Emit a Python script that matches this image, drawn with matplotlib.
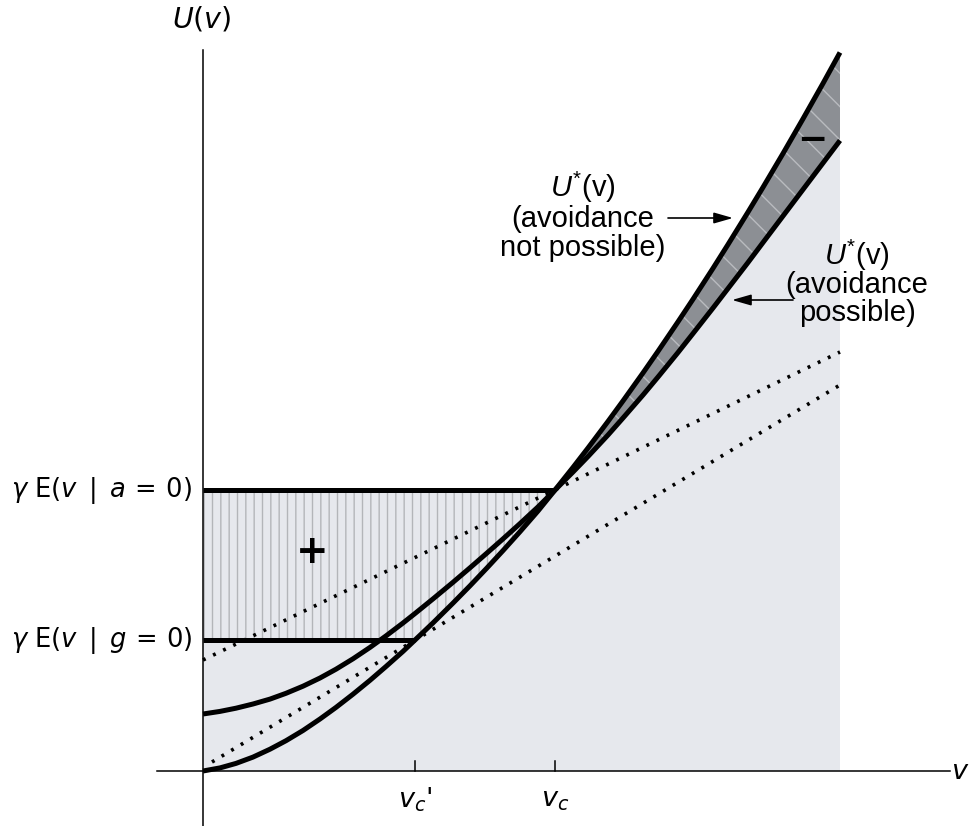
import numpy as np
import matplotlib
matplotlib.use('Agg')
import matplotlib.pyplot as plt

plt.rcParams['font.family'] = 'DejaVu Sans'
plt.rcParams['mathtext.fontset'] = 'dejavusans'
# used only by the annotation texts (math_fontfamily='custom')
plt.rcParams['mathtext.rm'] = 'Liberation Sans'
plt.rcParams['mathtext.it'] = 'Liberation Sans:italic'
plt.rcParams['hatch.linewidth'] = 1.0

# values (units: pixels from the origin)
v = [0, 17, 33, 50, 67, 83, 100, 117, 133, 150, 167, 183, 200, 212, 230, 250, 267, 284, 300,
     317, 335, 352, 370, 385, 405, 420, 440, 455, 475, 490, 510, 525, 545, 560, 580, 600, 620, 637]
u_not_possible = [0, 3.1, 7.6, 13.9, 21.8, 30.3, 40.5, 52, 63.6, 76.8, 90.7, 104.5, 119.6, 131,
                  148.1, 167.9, 185.2, 203.1, 220.4, 239.3, 260, 281, 303.6, 323, 349.6, 370.1,
                  398.1, 419.7, 449.2, 471.8, 502.7, 526.5, 558.9, 583.7, 617.5, 652.2, 687.6, 718.5]
u_possible = [57, 59.6, 62.8, 67, 71.9, 77.7, 84.8, 93, 101.8, 112.2, 123.6, 135.1, 148, 157.5,
              172.1, 188.7, 203.2, 218, 232.1, 247.4, 264.1, 281, 299, 314.5, 336, 353, 376,
              394, 418.5, 437.5, 463, 482.5, 508.5, 528.5, 555, 581.5, 608, 630.5]

vc = 352
vc_prime = 212
level_a = 281   # gamma E(v | a = 0)
level_g = 131   # gamma E(v | g = 0)

dot_hi_v = [0, 637]
dot_hi_u = [111, 419]
dot_lo_v = [9, 637]
dot_lo_u = [9, 386]

light = '#e6e8ed'
dark = '#8c8f94'

fig = plt.figure(figsize=(9.71, 8.26), dpi=100)
ax = fig.add_axes([0, 0, 1, 1])
ax.set_xlim(-203, 768)
ax.set_ylim(-55, 771)
ax.axis('off')

k = v.index(vc)

# light region under the curves
poly_x = [0, v[-1]] + v[k:][::-1] + [0]
poly_y = [0, 0] + u_possible[k:][::-1] + [level_a]
ax.fill(poly_x, poly_y, color=light, lw=0, zorder=1)

# hatched "+" region
va = np.array(v[:k + 1])
ua = np.array(u_not_possible[:k + 1])
ax.fill_between(va, np.maximum(ua, level_g), level_a, facecolor=light,
                edgecolor='#b3b5b9', hatch='||', lw=0, zorder=2)

# dark "-" band
ax.fill_between(v[k:], u_possible[k:], u_not_possible[k:], facecolor=dark,
                edgecolor='#b9bbbf', hatch='\\', lw=0, zorder=2)

# dotted lines
dots = dict(color='k', lw=2.6, linestyle=(0, (0.8, 2.3)), zorder=4)
ax.plot(dot_hi_v, dot_hi_u, **dots)
ax.plot(dot_lo_v, dot_lo_u, **dots)

# curves and levels
ax.plot(v, u_not_possible, color='k', lw=3.6, solid_capstyle='butt', zorder=5)
ax.plot(v, u_possible, color='k', lw=3.6, solid_capstyle='butt', zorder=5)
ax.plot([0, vc], [level_a, level_a], color='k', lw=3.6, solid_capstyle='butt', zorder=5)
ax.plot([0, vc_prime], [level_g, level_g], color='k', lw=3.6, solid_capstyle='butt', zorder=5)

# axes
ax.plot([-46, 747], [0, 0], color='k', lw=1.1, zorder=6)
ax.plot([0, 0], [-55, 721], color='k', lw=1.1, zorder=6)
for t in [vc_prime, vc]:
    ax.plot([t, t], [0, 10], color='k', lw=1.1, zorder=6)

# axis labels
ax.text(-1, 752, r'$U(v)$', fontsize=20.5, ha='center', va='center')
ax.text(757, -1, r'$v$', fontsize=19.5, ha='center', va='center')
ax.text(vc_prime, -29, r"$v_c$'", fontsize=19.5, ha='center', va='center')
ax.text(vc, -29, r'$v_c$', fontsize=19.5, ha='center', va='center')
ax.text(-11, level_a, r'$\gamma\ \mathrm{E}(v\ \,|\ \,a\,=\,0)$', fontsize=18.5, ha='right', va='center')
ax.text(-11, level_g, r'$\gamma\ \mathrm{E}(v\ \,|\ \,g\,=\,0)$', fontsize=18.5, ha='right', va='center')

# signs
ax.text(109, 219, '+', fontsize=28, fontweight='bold', ha='center', va='center', zorder=7)
ax.text(609, 631, '\u2212', fontsize=26, fontweight='bold', ha='center', va='center', zorder=7)

# annotations
ann = dict(family='Liberation Sans', fontsize=21, ha='center', va='baseline',
           math_fontfamily='custom', zorder=7)
ax.text(380, 574, r'$U^{*}$(v)', **ann)
ax.text(380, 544, '(avoidance', **ann)
ax.text(380, 515, 'not possible)', **ann)
ax.text(654, 506, r'$U^{*}$(v)', **ann)
ax.text(654, 478, '(avoidance', **ann)
ax.text(654, 450, 'possible)', **ann)

arrow = dict(arrowstyle='-|>,head_length=1.15,head_width=0.33', color='k', lw=1.2,
             mutation_scale=10, shrinkA=0, shrinkB=0)
ax.annotate('', xy=(530, 553), xytext=(465, 553), arrowprops=arrow, zorder=7)
ax.annotate('', xy=(529, 471), xytext=(590, 471), arrowprops=arrow, zorder=7)

fig.savefig('out.png', dpi=100)
